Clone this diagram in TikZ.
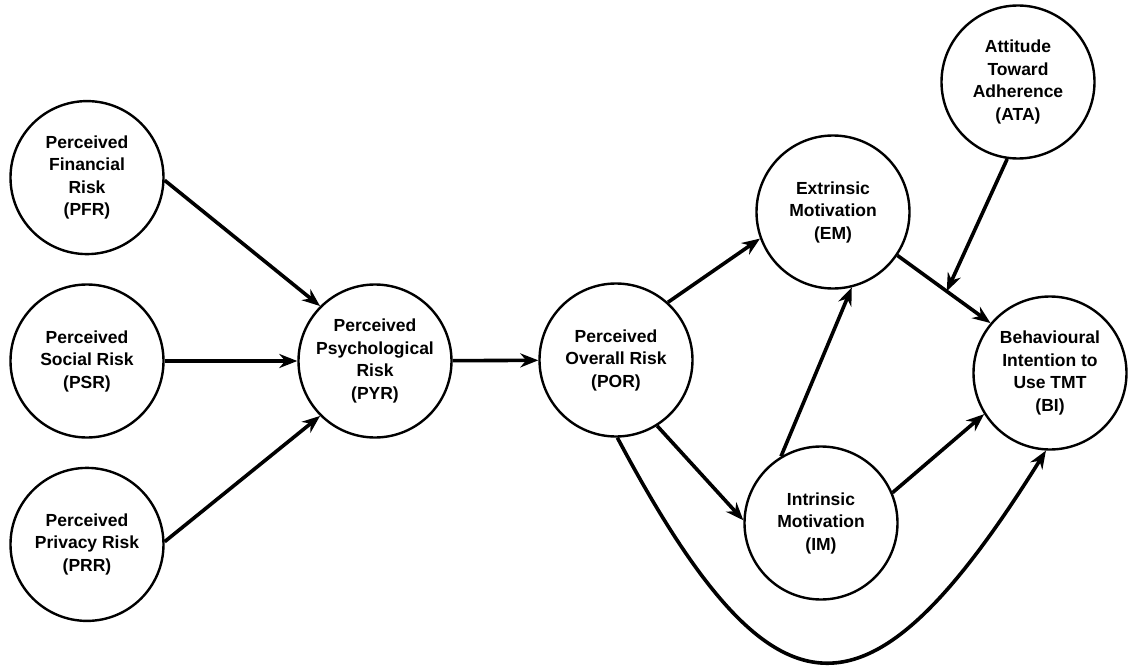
\documentclass[tikz,border=0pt]{standalone}
\usepackage{fontspec}
\setmainfont{Liberation Sans}
\usetikzlibrary{arrows.meta,positioning}
\tikzset{
    cnode/.style={circle, draw, line width=2.4pt, minimum size=153pt, inner sep=0pt,
                  align=center, font=\fontsize{17.5}{22.5}\selectfont\bfseries},
    arr/.style={-{Stealth[length=18pt,width=14pt]}, line width=3.6pt},
}

\begin{document}
\begin{tikzpicture}[x=1pt, y=1pt, node distance=28pt]
    \useasboundingbox (0,0) rectangle (1128,-669);

    % risk dimensions
    \node[cnode] (psr) at (87,-361) {Perceived\\Social Risk\\(PSR)};
    \node[cnode, above=of psr] (pfr) {Perceived\\Financial\\Risk\\(PFR)};
    \node[cnode, below=of psr] (prr) {Perceived\\Privacy Risk\\(PRR)};
    \node[cnode] (pyr) at (375,-361) {Perceived\\Psychological\\Risk\\(PYR)};
    \node[cnode] (por) at (616,-360) {Perceived\\Overall Risk\\(POR)};

    % motivation and intention
    \node[cnode] (em)  at (833,-212)  {Extrinsic\\Motivation\\(EM)};
    \node[cnode] (im)  at (821,-523)  {Intrinsic\\Motivation\\(IM)};
    \node[cnode] (ata) at (1018,-82)  {Attitude\\Toward\\Adherence\\(ATA)};
    \node[cnode] (bi)  at (1050,-373) {Behavioural\\Intention to\\Use TMT\\(BI)};

    \draw[arr] (pfr.-2) -- (pyr.135);
    \draw[arr] (psr) -- (pyr);
    \draw[arr] (prr.2) -- (pyr.-135);
    \draw[arr] (pyr) -- (por);
    \draw[arr] (por.48) -- (em.200);
    \draw[arr] (por.-58) -- (im.178);
    \draw[arr] (im.121) -- (em.-76);
    \draw[arr] (im.23) -- (bi.212);
    \draw[arr] (em.-34) -- coordinate[pos=0.53] (mod) (bi.140);
    \draw[arr] (ata.262) -- (mod);
    \draw[arr] (por.-89) to[out=-62, in=-122, looseness=2] (bi.-93);
\end{tikzpicture}
\end{document}
